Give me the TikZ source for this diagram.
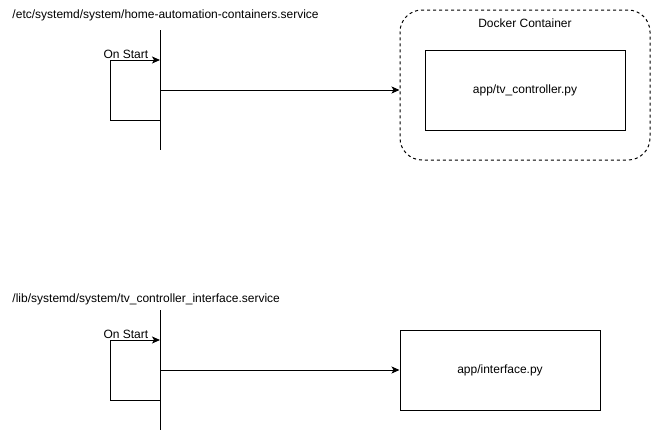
\documentclass[tikz,border=0pt]{standalone}
\usepackage{fontspec}
\setmainfont{Liberation Sans}
\usetikzlibrary{arrows.meta}
\begin{document}
\begin{tikzpicture}[x=1pt,y=-1pt,line width=1pt,
  lbl/.style={font=\fontsize{12}{14}\selectfont,inner sep=0pt},
  arr/.style={-{Stealth[length=8pt,width=7pt,inset=2pt]}},
  boxn/.style={draw,rectangle,inner sep=0pt,font=\fontsize{12}{14}\selectfont},
  dockerbox/.style={draw,dashed,rounded corners=22pt,inner sep=0pt}]
\useasboundingbox (0,0) rectangle (651,432);
% top
\node[lbl,anchor=west] (t1) at (12,15) {/etc/systemd/system/home-automation-containers.service};
\coordinate (v1a) at (160,30);
\coordinate (v1b) at (160,150);
\draw (v1a) -- (v1b);
\coordinate (l1t) at (110,60);
\coordinate (l1b) at (110,120);
\coordinate (l1e) at (160,60);
\coordinate (l1f) at (160,120);
\draw[arr] (l1f) -- (l1b) -- (l1t) -- (l1e);
\node[lbl,anchor=south west] (os1) at (103,59) {On Start};
\node[dockerbox,minimum width=250pt,minimum height=150pt] (dock) at (525,85) {};
\node[lbl] (dl) at (525,23) {Docker Container};
\node[boxn,minimum width=200pt,minimum height=80pt] (tv) at (525,90) {app/tv\_controller.py};
\coordinate (h1) at (160,90);
\draw[arr] (h1) -- (h1 -| dock.west);
% bottom
\node[lbl,anchor=west] (t2) at (12,299) {/lib/systemd/system/tv\_controller\_interface.service};
\coordinate (v2a) at (160,310);
\coordinate (v2b) at (160,430);
\draw (v2a) -- (v2b);
\coordinate (l2t) at (110,340);
\coordinate (l2b) at (110,400);
\coordinate (l2e) at (160,340);
\coordinate (l2f) at (160,400);
\draw[arr] (l2f) -- (l2b) -- (l2t) -- (l2e);
\node[lbl,anchor=south west] (os2) at (103,339) {On Start};
\node[boxn,minimum width=200pt,minimum height=80pt] (iface) at (500,370) {app/interface.py};
\coordinate (h2) at (160,370);
\draw[arr] (h2) -- (h2 -| iface.west);
\end{tikzpicture}
\end{document}
